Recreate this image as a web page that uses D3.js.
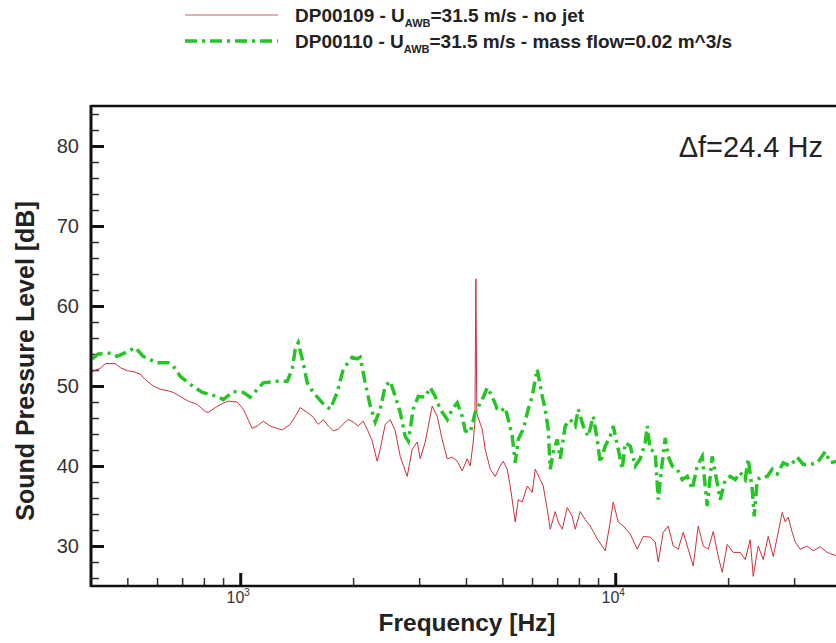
<!DOCTYPE html>
<html>
<head>
<meta charset="utf-8">
<script src="https://cdn.jsdelivr.net/npm/d3@7"></script>
<style>
  body { margin: 0; background: #fff; }
  svg { display: block; font-family: "Liberation Sans", Arial, sans-serif; }
  .tick text { fill: #333; }
</style>
</head>
<body>
<div id="chart"></div>
<script>
// spectra (frequency in Hz, level in dB)
let redFreq = [403, 423, 437, 464, 479, 500, 518, 541, 558, 586, 612, 643, 663, 692, 727, 768, 807, 822, 858, 895,
	929, 982, 1019, 1050, 1076, 1110, 1152, 1202, 1255, 1294, 1359, 1402, 1445, 1509, 1566, 1614, 1665, 1717, 1770, 1825,
	1906, 1941, 2002, 2064, 2128, 2181, 2249, 2319, 2362, 2436, 2512, 2590, 2671, 2788, 2875, 2965, 3020, 3114, 3251, 3352,
	3457, 3565, 3676, 3790, 3908, 4030, 4105, 4182, 4225, 4250, 4275, 4419, 4501, 4642, 4786, 4935, 5027, 5152, 5248, 5412,
	5512, 5649, 5826, 6007, 6119, 6310, 6427, 6587, 6709, 6918, 7047, 7222, 7447, 7680, 7822, 8066, 8318, 8577, 8954, 9405,
	9698, 9878, 10185, 10503, 10965, 11447, 11876, 12396, 12784, 13021, 13428, 13847, 14279, 14723, 15182, 15655, 16143, 16646, 17166, 17701,
	18253, 18822, 19290, 19891, 20636, 21544, 22216, 22909, 23335, 24063, 24812, 25586, 26384, 27206, 27881, 28403, 28930, 29648, 30200, 31140,
	32509, 33729, 35210, 36756, 38133, 40000];
let redSpl = [51.8, 52.2, 52.8, 52.8, 52.3, 51.9, 51.8, 51.5, 50.8, 50.0, 49.6, 49.4, 49.2, 48.7, 48.1, 47.7, 46.8, 46.7, 47.3, 47.8,
	48.1, 48.0, 47.1, 45.8, 44.7, 45.0, 45.6, 45.0, 44.7, 44.5, 45.2, 46.2, 47.3, 46.7, 46.1, 45.2, 45.8, 45.0, 44.4, 44.6,
	45.5, 45.8, 45.5, 45.0, 45.6, 44.6, 43.1, 40.6, 42.1, 45.2, 45.8, 44.4, 41.2, 38.7, 42.1, 43.0, 40.9, 43.0, 47.5, 46.2,
	43.3, 40.9, 41.1, 40.6, 39.4, 40.9, 40.0, 43.0, 45.5, 63.4, 46.5, 44.6, 42.1, 39.6, 38.7, 40.0, 40.6, 39.6, 37.5, 33.0,
	35.8, 35.5, 37.5, 36.7, 39.6, 38.3, 37.5, 34.6, 32.1, 34.3, 33.0, 32.1, 34.8, 33.7, 32.1, 34.3, 33.3, 32.5, 30.9, 29.4,
	33.0, 35.5, 33.0, 32.5, 31.5, 29.6, 31.2, 31.1, 30.5, 28.0, 31.7, 32.5, 30.0, 29.6, 31.7, 29.6, 27.5, 32.5, 30.0, 29.6,
	31.8, 28.7, 26.7, 30.2, 29.2, 29.2, 28.3, 30.8, 26.2, 30.0, 28.3, 31.2, 28.7, 31.7, 34.2, 33.0, 33.6, 31.7, 30.5, 29.6,
	30.0, 29.4, 29.9, 29.2, 28.9, 28.7];

let greenFreq = [403, 418, 450, 470, 500, 525, 551, 601, 643, 663, 692, 736, 792, 868, 901, 958, 1019, 1063, 1152, 1255,
	1335, 1376, 1402, 1428, 1472, 1509, 1566, 1655, 1738, 1814, 1882, 1989, 2051, 2089, 2154, 2222, 2291, 2362, 2436, 2512,
	2590, 2671, 2754, 2806, 2893, 2983, 3114, 3211, 3311, 3415, 3565, 3676, 3790, 3908, 3981, 4105, 4233, 4419, 4557, 4699,
	4845, 4935, 5089, 5184, 5313, 5412, 5512, 5684, 5861, 6007, 6119, 6194, 6388, 6506, 6627, 6709, 6834, 7004, 7134, 7356,
	7586, 7822, 7968, 8216, 8472, 8737, 8954, 9120, 9405, 9698, 9878, 10185, 10439, 10633, 10965, 11307, 11659, 12023, 12171, 12396,
	12784, 13021, 13346, 13594, 13847, 14191, 14634, 15089, 15560, 16044, 16544, 17061, 17592, 18141, 18478, 19055, 19648, 20260, 20893, 21544,
	22216, 22629, 23193, 23479, 23916, 24660, 25427, 26223, 27040, 28054, 29286, 30573, 31718, 33113, 34567, 36308, 37437, 40000];
let greenSpl = [53.4, 54.0, 54.1, 53.7, 54.3, 54.8, 53.7, 52.9, 52.9, 52.5, 51.2, 50.2, 49.2, 48.7, 48.3, 49.3, 49.2, 48.6, 50.4, 50.6,
	50.6, 52.1, 54.6, 55.4, 52.9, 50.4, 49.2, 47.9, 47.1, 49.2, 52.1, 53.6, 53.4, 53.6, 50.4, 47.5, 45.5, 47.1, 50.0, 50.6,
	48.7, 46.7, 43.7, 43.1, 47.1, 48.7, 48.6, 49.8, 48.7, 47.1, 45.8, 47.1, 47.9, 46.2, 44.4, 44.2, 46.7, 48.3, 49.8, 48.7,
	47.1, 46.8, 47.3, 45.8, 43.7, 40.4, 43.3, 44.6, 47.1, 48.7, 50.8, 52.1, 48.7, 47.1, 44.6, 39.6, 41.7, 43.3, 40.9, 45.0,
	45.8, 45.0, 47.1, 45.0, 43.7, 46.2, 43.3, 40.4, 42.5, 43.7, 45.0, 42.1, 39.6, 42.9, 42.5, 40.0, 40.9, 42.9, 45.0, 42.1,
	41.7, 35.8, 40.4, 43.5, 41.2, 40.0, 39.6, 38.3, 38.7, 37.1, 40.0, 41.2, 35.0, 41.2, 39.2, 35.8, 38.3, 38.7, 38.3, 39.2,
	38.3, 40.9, 37.1, 33.7, 38.3, 38.7, 38.7, 39.6, 39.0, 40.4, 40.0, 41.1, 40.2, 40.2, 40.4, 41.8, 40.4, 40.7];

let yMajor = [30, 40, 50, 60, 70, 80];
let xMajor = [1000, 10000];
let xMinor = [500, 600, 700, 800, 900, 2000, 3000, 4000, 5000, 6000, 7000, 8000, 9000, 20000, 30000];

let canvasWidth = 836;
let canvasHeight = 643;
let plotLeft = 91, plotTop = 106, plotBottom = 586;

let svg = d3.select('#chart').append('svg')
	.attr('width', canvasWidth)
	.attr('height', canvasHeight);

let x = d3.scaleLog().domain([400, 40000]).range([plotLeft, plotLeft + 750]);
let y = d3.scaleLinear().domain([25, 85]).range([plotBottom, plotTop]);

let yMinor = d3.range(26, 85, 2).filter((v) => v % 10 != 0);

// y ticks
svg.append('g')
	.attr('transform', 'translate(' + plotLeft + ',0)')
	.call(d3.axisLeft(y).tickValues(yMajor).tickSizeInner(-13).tickSizeOuter(0).tickPadding(12))
	.call((g) => g.select('.domain').remove())
	.call((g) => g.selectAll('line').attr('stroke', '#111').attr('stroke-width', 3))
	.call((g) => g.selectAll('text').style('font-size', '20px'));

svg.append('g')
	.attr('transform', 'translate(' + plotLeft + ',0)')
	.call(d3.axisLeft(y).tickValues(yMinor).tickSizeInner(-8).tickSizeOuter(0).tickFormat(''))
	.call((g) => g.select('.domain').remove())
	.call((g) => g.selectAll('line').attr('stroke', '#333').attr('stroke-width', 1.5));

// x ticks
svg.append('g')
	.attr('transform', 'translate(0,' + plotBottom + ')')
	.call(d3.axisBottom(x).tickValues(xMajor).tickSizeInner(-13).tickSizeOuter(0).tickFormat(''))
	.call((g) => g.select('.domain').remove())
	.call((g) => g.selectAll('line').attr('stroke', '#111').attr('stroke-width', 3));

svg.append('g')
	.attr('transform', 'translate(0,' + plotBottom + ')')
	.call(d3.axisBottom(x).tickValues(xMinor).tickSizeInner(-8).tickSizeOuter(0).tickFormat(''))
	.call((g) => g.select('.domain').remove())
	.call((g) => g.selectAll('line').attr('stroke', '#333').attr('stroke-width', 1.5));

let xLab = svg.selectAll('.xlab')
	.data(xMajor).enter().append('text')
		.attr('class', 'xlab')
		.attr('x', (d) => x(d) - 2)
		.attr('y', plotBottom + 17)
		.attr('text-anchor', 'middle')
		.style('font-size', '16px')
		.style('fill', '#333');
xLab.append('tspan').text('10');
xLab.append('tspan').attr('dy', -7).style('font-size', '10px').text((d) => Math.round(Math.log10(d)));

// data
let line = d3.line()
	.x((d) => x(d[0]))
	.y((d) => y(d[1]));

svg.append('path')
	.datum(d3.zip(redFreq, redSpl))
	.attr('fill', 'none')
	.attr('stroke', '#c8323c')
	.attr('stroke-width', 1)
	.attr('d', line);

svg.append('path')
	.datum(d3.zip(greenFreq, greenSpl))
	.attr('fill', 'none')
	.attr('stroke', '#25c525')
	.attr('stroke-width', 3.5)
	.attr('stroke-dasharray', '12,5,3,5')
	.attr('d', line);

// frame
svg.append('line').attr('x1', plotLeft).attr('x2', canvasWidth).attr('y1', plotTop).attr('y2', plotTop)
	.attr('stroke', '#111').attr('stroke-width', 2.5);
svg.append('line').attr('x1', plotLeft).attr('x2', canvasWidth).attr('y1', plotBottom).attr('y2', plotBottom)
	.attr('stroke', '#111').attr('stroke-width', 2.5);
svg.append('line').attr('x1', plotLeft).attr('x2', plotLeft).attr('y1', plotTop - 1).attr('y2', plotBottom + 1)
	.attr('stroke', '#111').attr('stroke-width', 3);

// titles
svg.append('text')
	.attr('x', 467).attr('y', 631)
	.attr('text-anchor', 'middle')
	.style('font-size', '24.5px').style('font-weight', 'bold').style('fill', '#222')
	.text('Frequency [Hz]');

svg.append('text')
	.attr('transform', 'translate(34,361) rotate(-90)')
	.attr('text-anchor', 'middle')
	.style('font-size', '25px').style('font-weight', 'bold').style('fill', '#222')
	.text('Sound Pressure Level [dB]');

svg.append('text')
	.attr('x', 823).attr('y', 157)
	.attr('text-anchor', 'end')
	.style('font-size', '29px').style('fill', '#222')
	.text('\u0394f=24.4 Hz');

// legend
let legend = [
	{ pre: 'DP00109 - U', post: '=31.5 m/s - no jet', color: '#d05a64', width: 1, dash: null },
	{ pre: 'DP00110 - U', post: '=31.5 m/s - mass flow=0.02 m^3/s', color: '#25c525', width: 3.5, dash: '12,5,3,5' }
];

let groupLeg = svg.selectAll('.leg')
	.data(legend).enter().append('g')
		.attr('class', 'leg')
		.attr('transform', (o, i) => 'translate(0,' + (15 + i * 26) + ')');

groupLeg.append('line')
	.attr('x1', 185).attr('x2', 278)
	.attr('stroke', (o) => o.color)
	.attr('stroke-width', (o) => o.width)
	.attr('stroke-dasharray', (o) => o.dash);

let legText = groupLeg.append('text')
	.attr('x', 295).attr('y', 7)
	.style('font-size', '19px').style('font-weight', 'bold').style('fill', '#222');
legText.append('tspan').text((o) => o.pre);
legText.append('tspan').attr('dy', 5).style('font-size', '11px').text('AWB');
legText.append('tspan').attr('dy', -5).text((o) => o.post);
</script>
</body>
</html>
